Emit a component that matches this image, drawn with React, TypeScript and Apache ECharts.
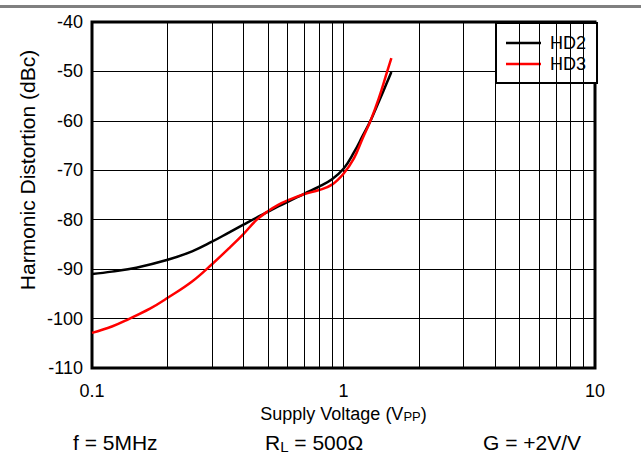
import React, { useEffect, useRef } from "react";
import * as echarts from "echarts";

const hd2X = [0.1, 0.12, 0.15, 0.2, 0.25, 0.3, 0.35, 0.4, 0.45, 0.5, 0.55, 0.6, 0.7, 0.8, 0.9, 1.0, 1.1, 1.19, 1.28, 1.38, 1.49, 1.55];
const hd2Y = [-91.0, -90.5, -89.7, -88.1, -86.4, -84.45, -82.6, -81.0, -79.6, -78.4, -77.3, -76.4, -74.7, -73.3, -71.8, -69.7, -66.4, -63.1, -60.0, -56.2, -52.2, -50.1];

const hd3X = [0.1, 0.12, 0.14, 0.17, 0.2, 0.25, 0.3, 0.35, 0.4, 0.45, 0.5, 0.55, 0.6, 0.7, 0.8, 0.9, 1.0, 1.1, 1.19, 1.28, 1.38, 1.49, 1.55];
const hd3Y = [-102.9, -101.6, -100.1, -98.0, -95.8, -92.5, -89.0, -85.8, -82.9, -80.1, -78.3, -77.0, -76.1, -74.8, -74.0, -72.9, -70.7, -67.6, -63.6, -60.0, -55.5, -50.1, -47.3];

const minorGridX = [0.2, 0.3, 0.4, 0.5, 0.6, 0.7, 0.8, 0.9, 2, 3, 4, 5, 6, 7, 8, 9];

const FONT = "Liberation Sans";

export default function App() {
  const ref = useRef<HTMLDivElement>(null);
  useEffect(() => {
    document.body.style.margin = "0";
    const chart = echarts.init(ref.current!, null, { renderer: "svg" });
    const hd2 = hd2X.map((x, i) => [x, hd2Y[i]]);
    const hd3 = hd3X.map((x, i) => [x, hd3Y[i]]);
    chart.setOption({
      animation: false,
      backgroundColor: "#fff",
      textStyle: { fontFamily: FONT, color: "#000" },
      grid: {
        left: 92,
        right: 46,
        top: 22,
        bottom: 96,
        show: true,
        borderColor: "#000",
        borderWidth: 3,
        backgroundColor: "transparent",
      },
      legend: {
        data: [
          { name: "HD2", icon: "rect", itemStyle: { color: "#000" } },
          { name: "HD3", icon: "rect", itemStyle: { color: "#ff0000" } },
        ],
        orient: "vertical",
        left: 496,
        top: 23,
        padding: [11, 11, 10, 10],
        itemGap: 3,
        itemWidth: 35,
        itemHeight: 2.5,
        backgroundColor: "#fff",
        borderColor: "#000",
        borderWidth: 2,
        borderRadius: 0,
        textStyle: { fontFamily: FONT, fontSize: 18, lineHeight: 18, color: "#000", padding: [0, 0, 0, 4] },
      },
      xAxis: {
        type: "log",
        logBase: 10,
        min: 0.1,
        max: 10,
        axisLine: { show: false },
        axisTick: { show: false },
        splitLine: { show: true, lineStyle: { color: "#000", width: 1 } },
        axisLabel: { fontFamily: FONT, fontSize: 18, color: "#000", margin: 14, showMinLabel: true, showMaxLabel: true },
        name: "{a|Supply Voltage (V}{s|PP}{a|)}",
        nameLocation: "middle",
        nameGap: 34,
        nameTextStyle: {
          rich: {
            a: { fontFamily: FONT, fontSize: 18, color: "#000" },
            s: { fontFamily: FONT, fontSize: 13, color: "#000", padding: [5, 0, 0, 0] },
          },
        },
      },
      yAxis: {
        type: "value",
        min: -110,
        max: -40,
        interval: 10,
        axisLine: { show: false },
        axisTick: { show: false },
        splitLine: { show: true, lineStyle: { color: "#000", width: 1 } },
        axisLabel: { fontFamily: FONT, fontSize: 18, color: "#000", margin: 9 },
      },
      series: [
        {
          name: "grid-minor",
          type: "line",
          data: hd2,
          z: 1,
          symbol: "none",
          lineStyle: { width: 0, opacity: 0 },
          silent: true,
          markLine: {
            silent: true,
            symbol: ["none", "none"],
            label: { show: false },
            lineStyle: { color: "#000", width: 1, type: "solid" },
            data: minorGridX.map((v) => ({ xAxis: v })),
          },
        },
        {
          name: "HD2",
          type: "line",
          data: hd2,
          z: 3,
          smooth: 0.4,
          symbol: "none",
          showSymbol: false,
          lineStyle: { color: "#000", width: 2.5 },
          itemStyle: { color: "#000" },
        },
        {
          name: "HD3",
          type: "line",
          data: hd3,
          z: 4,
          smooth: 0.4,
          symbol: "none",
          showSymbol: false,
          lineStyle: { color: "#ff0000", width: 2.5 },
          itemStyle: { color: "#ff0000" },
        },
      ],
      graphic: [
        { type: "rect", left: 0, top: 5, shape: { width: 641, height: 3 }, style: { fill: "#808080" } },
        {
          type: "text",
          x: 27,
          y: 170,
          rotation: Math.PI / 2,
          style: {
            text: "Harmonic Distortion (dBc)",
            fontFamily: FONT,
            fontSize: 21,
            fill: "#000",
            align: "center",
            verticalAlign: "middle",
          },
        },
        {
          type: "text",
          left: 73,
          top: 432,
          style: { text: "f = 5MHz", fontFamily: FONT, fontSize: 21, fill: "#000" },
        },
        {
          type: "text",
          left: 265,
          top: 432,
          style: {
            text: "{a|R}{s|L}{a| = 500Ω}",
            rich: {
              a: { fontFamily: FONT, fontSize: 21, fill: "#000" },
              s: { fontFamily: FONT, fontSize: 15, fill: "#000", padding: [8, 0, 0, 0] },
            },
          },
        },
        {
          type: "text",
          left: 483,
          top: 432,
          style: { text: "G = +2V/V", fontFamily: FONT, fontSize: 21, fill: "#000" },
        },
      ],
    });
    return () => chart.dispose();
  }, []);
  return <div ref={ref} style={{ width: 641, height: 464 }} />;
}
